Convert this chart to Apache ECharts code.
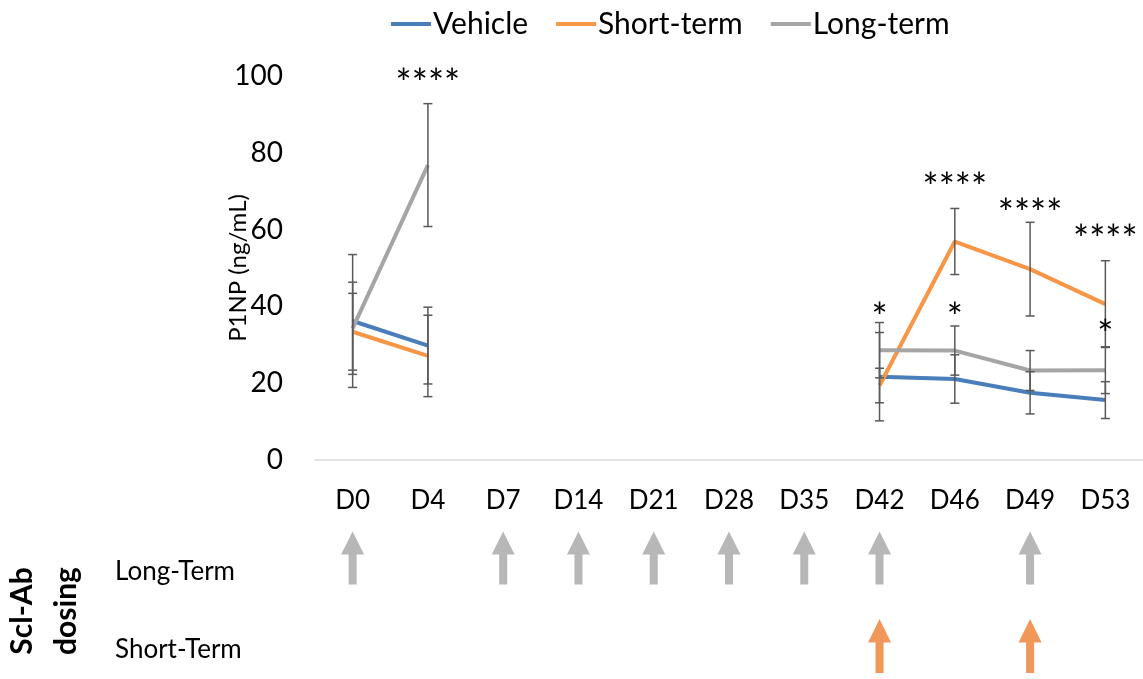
<!DOCTYPE html>
<html>
<head>
<meta charset="utf-8">
<title>P1NP</title>
<script src="https://cdn.jsdelivr.net/npm/echarts@6/dist/echarts.min.js"></script>
<style>
  html, body { margin: 0; padding: 0; background: #fff; }
  #chart { width: 1143px; height: 679px; }
</style>
</head>
<body>
<div id="chart"></div>
<script>
// data
const days = ['D0', 'D4', 'D7', 'D14', 'D21', 'D28', 'D35', 'D42', 'D46', 'D49', 'D53'];
const vehicle = [36.2, 29.8, null, null, null, null, null, 21.7, 21.1, 17.5, 15.6];
const vehicleSd = [17.3, 10.0, null, null, null, null, null, 11.5, 6.3, 5.5, 4.8];
const shortTerm = [33.4, 27.1, null, null, null, null, null, 19.4, 56.9, 49.7, 40.6];
const shortSd = [10.0, 10.6, null, null, null, null, null, 4.5, 8.6, 12.2, 11.3];
const longTerm = [34.3, 76.8, null, null, null, null, null, 28.6, 28.5, 23.3, 23.4];
const longSd = [12.0, 16.0, null, null, null, null, null, 7.2, 6.4, 5.2, 6.1];

// significance marks: day, height (ng/mL), text
const sigDays = ['D4', 'D46', 'D49', 'D53', 'D42', 'D46', 'D53'];
const sigHeights = [100, 72.9, 66.1, 59.5, 39.1, 39.1, 34.7];
const sigTexts = ['****', '****', '****', '****', '*', '*', '*'];

// Scl-Ab dosing days
const dosingRows = ['Short-Term', 'Long-Term'];
const longDoses = ['D0', 'D7', 'D14', 'D21', 'D28', 'D35', 'D42', 'D49'];
const shortDoses = ['D42', 'D49'];

const FONT = 'Lato';
const BLUE = '#4a7ebb', ORANGE = '#f79646', GREY = '#a5a5a5';
const ARROW = 'path://M11.5,0 L23,23 L15.5,23 L15.5,53 L7.5,53 L7.5,23 L0,23 Z';

function errorSeries(name, means, sds) {
  const data = [];
  means.forEach((m, i) => {
    if (m != null) data.push([i, m - sds[i], m + sds[i]]);
  });
  return {
    type: 'custom',
    name: name + ' sd',
    xAxisIndex: 0, yAxisIndex: 0,
    z: 5,
    silent: true,
    renderItem: function (params, api) {
      const x = api.coord([api.value(0), api.value(1)])[0];
      const lo = api.coord([api.value(0), api.value(1)])[1];
      const hi = api.coord([api.value(0), api.value(2)])[1];
      const style = { stroke: '#595959', lineWidth: 1.5 };
      return {
        type: 'group',
        children: [
          { type: 'line', shape: { x1: x, y1: lo, x2: x, y2: hi }, style: style },
          { type: 'line', shape: { x1: x - 4.5, y1: lo, x2: x + 4.5, y2: lo }, style: style },
          { type: 'line', shape: { x1: x - 4.5, y1: hi, x2: x + 4.5, y2: hi }, style: style }
        ]
      };
    },
    data: data
  };
}

function lineSeries(name, values, color) {
  return {
    type: 'line',
    name: name,
    data: values,
    xAxisIndex: 0, yAxisIndex: 0,
    symbol: 'none',
    lineStyle: { color: color, width: 4 },
    itemStyle: { color: color },
    z: 3
  };
}

const chart = echarts.init(document.getElementById('chart'));

chart.setOption({
  animation: false,
  textStyle: { fontFamily: FONT },
  legend: {
    top: 4,
    left: 386,
    icon: 'rect',
    itemWidth: 40,
    itemHeight: 4,
    itemGap: 28,
    textStyle: { fontSize: 30, color: '#000', fontFamily: FONT, padding: [0, 0, 0, -3] },
    data: ['Vehicle', 'Short-term', 'Long-term']
  },
  grid: [
    { left: 315, right: 0, top: 76, height: 384, outerBoundsMode: 'none' },
    { left: 315, right: 0, top: 533, height: 156, outerBoundsMode: 'none' }
  ],
  xAxis: [
    {
      type: 'category', gridIndex: 0, data: days,
      axisLine: { lineStyle: { color: '#d9d9d9', width: 1.5 } },
      axisTick: { show: false },
      axisLabel: { color: '#000', fontSize: 26, margin: 28, fontFamily: FONT }
    },
    {
      type: 'category', gridIndex: 1, data: days,
      show: false
    }
  ],
  yAxis: [
    {
      type: 'value', gridIndex: 0, min: 0, max: 100, interval: 20,
      name: 'P1NP (ng/mL)', nameLocation: 'middle', nameGap: 65, nameRotate: 90,
      nameMoveOverlap: false,
      nameTextStyle: { color: '#000', fontSize: 24, fontFamily: FONT },
      axisLine: { show: false },
      axisTick: { show: false },
      splitLine: { show: false },
      axisLabel: { color: '#000', fontSize: 28, margin: 32, fontFamily: FONT }
    },
    {
      type: 'category', gridIndex: 1, data: dosingRows,
      name: 'Scl-Ab\ndosing', nameLocation: 'middle', nameGap: 227, nameRotate: 90,
      nameMoveOverlap: false,
      nameTextStyle: { color: '#000', fontSize: 30, fontWeight: 'bold', fontFamily: FONT, lineHeight: 44 },
      axisLine: { show: false },
      axisTick: { show: false },
      splitLine: { show: false },
      axisLabel: { color: '#000', fontSize: 26, margin: 200, align: 'left', fontFamily: FONT }
    }
  ],
  series: [
    lineSeries('Vehicle', vehicle, BLUE),
    lineSeries('Short-term', shortTerm, ORANGE),
    lineSeries('Long-term', longTerm, GREY),
    errorSeries('Vehicle', vehicle, vehicleSd),
    errorSeries('Short-term', shortTerm, shortSd),
    errorSeries('Long-term', longTerm, longSd),
    {
      type: 'custom',
      name: 'significance',
      xAxisIndex: 0, yAxisIndex: 0,
      silent: true,
      z: 6,
      renderItem: function (params, api) {
        const p = api.coord([api.value(0), api.value(1)]);
        return {
          type: 'text',
          x: p[0], y: p[1] + 9,
          style: {
            text: sigTexts[params.dataIndex],
            fill: '#000',
            font: '38px ' + FONT,
            align: 'center',
            verticalAlign: 'middle'
          }
        };
      },
      data: sigDays.map((d, i) => [d, sigHeights[i]])
    },
    {
      type: 'scatter',
      name: 'Long-Term dose',
      xAxisIndex: 1, yAxisIndex: 1,
      symbol: ARROW,
      symbolSize: [23, 53],
      symbolOffset: [0, -14],
      itemStyle: { color: GREY },
      silent: true,
      data: longDoses.map(d => [d, 'Long-Term'])
    },
    {
      type: 'scatter',
      name: 'Short-Term dose',
      xAxisIndex: 1, yAxisIndex: 1,
      symbol: ARROW,
      symbolSize: [23, 54],
      symbolOffset: [0, -4],
      itemStyle: { color: '#ed7d31' },
      silent: true,
      data: shortDoses.map(d => [d, 'Short-Term'])
    }
  ]
});
</script>
</body>
</html>
